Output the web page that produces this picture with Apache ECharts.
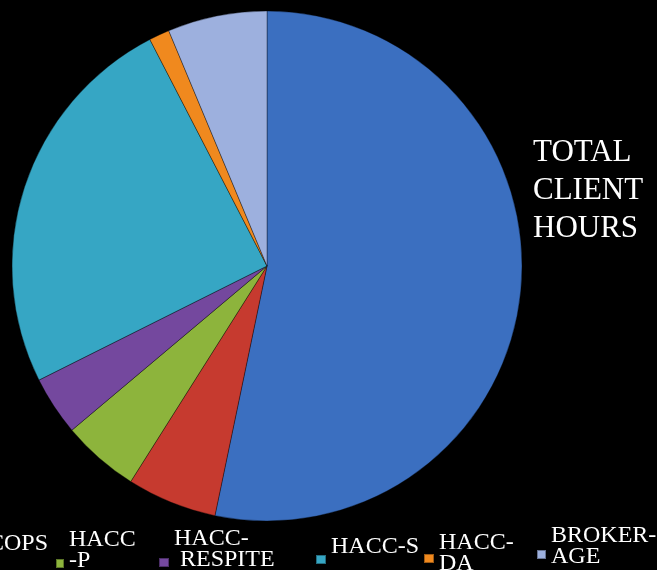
<!DOCTYPE html>
<html>
<head>
<meta charset="utf-8">
<script src="https://cdn.jsdelivr.net/npm/echarts@6/dist/echarts.min.js"></script>
<style>
  html, body { margin: 0; padding: 0; background: #000; }
  #chart { width: 657px; height: 570px; }
</style>
</head>
<body>
<div id="chart"></div>
<script>
// slice names, clockwise from 12 o'clock
let programs = ['CACP', 'COPS', 'HACC-P', 'HACC-RESPITE', 'HACC-S', 'HACC-DA', 'BROKERAGE'];
// share of total client hours (%)
let hours = [53.3, 5.7, 4.9, 3.75, 24.8, 1.3, 6.3];
// legend text as it wraps in the picture
let legendText = ['CACP', 'COPS', 'HACC\n-P', 'HACC-\n RESPITE', 'HACC-S', 'HACC-\nDA', 'BROKER-\nAGE'];

let colors = ['#3b6fc0', '#c63a2f', '#8db43c', '#74489e', '#36a6c4', '#f0891e', '#9db0de'];

// where each legend entry sits (icon left, icon centre y, icon width, text lift)
let spots = {
    'COPS':         { x: -27, cy: 555, w: 9,  lift: 26 },
    'HACC-P':       { x: 55,  cy: 562, w: 8,  lift: 26 },
    'HACC-RESPITE': { x: 158, cy: 561, w: 10, lift: 26 },
    'HACC-S':       { x: 315, cy: 558, w: 10, lift: 26 },
    'HACC-DA':      { x: 423, cy: 557, w: 10, lift: 11 },
    'BROKERAGE':    { x: 536, cy: 553, w: 9,  lift: 17 }
};

let myChart = echarts.init(document.getElementById('chart'));

let legends = [];
programs.forEach(function (name, i) {
    let s = spots[name];
    if (!s) return;
    let lines = legendText[i].split('\n').length;
    let h = lines * 21 + s.lift;
    legends.push({
        data: [name],
        left: s.x,
        top: s.cy - h / 2,
        padding: 0,
        itemWidth: s.w,
        itemHeight: 9,
        icon: 'rect',
        selectedMode: false,
        // an empty last line pushes the text up against the icon
        formatter: function () { return legendText[i] + '\n{s| }'; },
        textStyle: {
            color: '#fff',
            fontFamily: 'Liberation Serif',
            fontSize: 24,
            lineHeight: 21,
            rich: {
                s: { fontSize: 2, lineHeight: s.lift }
            }
        }
    });
});

let option = {
    backgroundColor: '#000',
    animation: false,
    color: colors,
    title: {
        text: 'TOTAL\nCLIENT\nHOURS',
        left: 533,
        top: 134,
        padding: 0,
        textStyle: {
            color: '#fff',
            fontFamily: 'Liberation Serif',
            fontSize: 31,
            fontWeight: 'normal',
            lineHeight: 38
        }
    },
    legend: legends,
    series: [
        {
            type: 'pie',
            center: [267, 266],
            radius: 255,
            startAngle: 90,
            clockwise: true,
            label: { show: false },
            labelLine: { show: false },
            itemStyle: {
                borderColor: 'rgba(0,0,0,0.35)',
                borderWidth: 1
            },
            data: programs.map(function (name, i) {
                return { name: name, value: hours[i] };
            })
        }
    ]
};
myChart.setOption(option);
</script>
</body>
</html>
